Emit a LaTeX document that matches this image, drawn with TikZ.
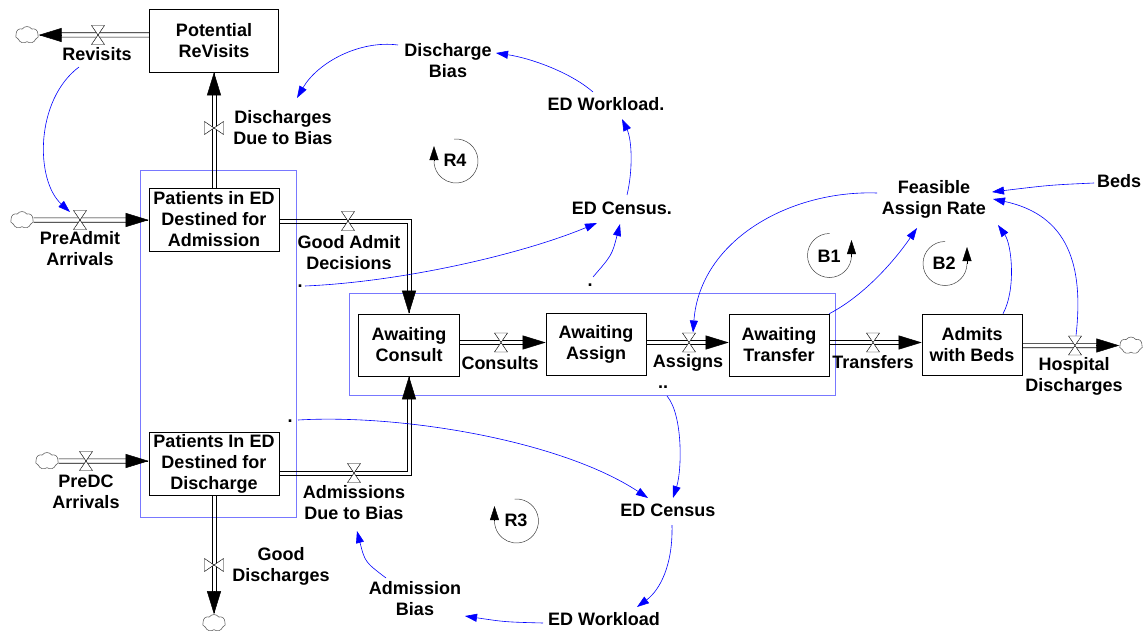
\documentclass[tikz,border=0pt]{standalone}
\usepackage{fontspec}
\setmainfont{Liberation Sans}
\usetikzlibrary{arrows.meta,calc,shapes.symbols}
\definecolor{grpblue}{RGB}{120,120,255}
\newcommand\hflowpipe[2]{\draw[pipe] ($#1+(0,-2.2)$) -- ($#2+(0,-2.2)$) ($#1+(0,2.2)$) -- ($#2+(0,2.2)$);}
\newcommand\vflowpipe[2]{\draw[pipe] ($#1+(-2.2,0)$) -- ($#2+(-2.2,0)$) ($#1+(2.2,0)$) -- ($#2+(2.2,0)$);}
\begin{document}
\begin{tikzpicture}[x=1pt,y=-1pt,
  every node/.style={font=\fontsize{18}{21}\selectfont\bfseries, align=center, inner sep=0pt},
  stock/.style={draw=black, line width=0.6pt, fill=white},
  grp/.style={draw=grpblue, line width=1pt},
  pipe/.style={draw=black, line width=0.6pt},
  flowtip/.style={draw=black, fill=black, line width=0.5pt, -{Triangle[length=23pt,width=14pt]}},
  link/.style={draw=blue, line width=0.6pt, -{Triangle[length=12pt,width=8pt]}},
  looparc/.style={draw=black!75, line width=0.5pt},
  looptip/.style={draw=black, fill=black, line width=0.4pt, -{Triangle[length=14pt,width=9pt]}},
  cloudy/.style={cloud, cloud puffs=7, cloud puff arc=110, aspect=1.4, draw=black!60, line width=0.6pt, fill=white, minimum width=23pt, minimum height=17pt, inner sep=0pt},
  valveh/.pic={\draw[line width=0.45pt, fill=white] (-6.5,-9.5) -- (6.5,-9.5) -- (0,0) -- cycle (-6.5,9.5) -- (6.5,9.5) -- (0,0) -- cycle;},
  valvev/.pic={\draw[line width=0.45pt, fill=white] (-9.5,-6.5) -- (-9.5,6.5) -- (0,0) -- cycle (9.5,-6.5) -- (9.5,6.5) -- (0,0) -- cycle;}
]
\useasboundingbox (0,0) rectangle (1146,634);
% groups
\draw[grp] (140,170) rectangle (296,517);
\draw[grp] (349,293) rectangle (835,395);
% stocks
\node[stock, minimum width=129pt, minimum height=63pt] (PRV) at (214,40.5) {Potential\\ReVisits};
\node[stock, minimum width=130pt, minimum height=63pt] (PA) at (214,219.5) {Patients in ED\\Destined for\\Admission};
\node[stock, minimum width=130pt, minimum height=63pt] (PD) at (214,463.5) {Patients In ED\\Destined for\\Discharge};
\node[stock, minimum width=101pt, minimum height=62pt] (AC) at (409,345) {Awaiting\\Consult};
\node[stock, minimum width=100pt, minimum height=62pt] (AA) at (596,344) {Awaiting\\Assign};
\node[stock, minimum width=100pt, minimum height=62pt] (AT) at (779,345) {Awaiting\\Transfer};
\node[stock, minimum width=100pt, minimum height=61pt] (AB) at (972,344.5) {Admits\\with Beds};
% clouds
\node[cloudy] (c1) at (27,35) {};
\node[cloudy] (c2) at (22,220) {};
\node[cloudy] (c3) at (47,461) {};
\node[cloudy] (c4) at (214,623) {};
\node[cloudy] (c5) at (1131,345.5) {};
% helper coordinates
\coordinate (row) at (0,342.5);
\coordinate (k1) at (409,221);
\coordinate (k2) at (409,473);
% pipes
\hflowpipe{(PRV.west |- c1)}{(c1.east)+(12,0)}
\draw[flowtip] ($(c1.east)+(1,0)$) -- (c1.east);
\hflowpipe{(c2.east)}{(c2 -| PA.west)+(-12,0)}
\draw[flowtip] ($(c2 -| PA.west)+(-1,0)$) -- (c2 -| PA.west);
\vflowpipe{(PA.north)}{(PRV.south)+(0,12)}
\draw[flowtip] ($(PRV.south)+(0,1)$) -- (PRV.south);
\draw[pipe] ($(PA.east |- k1)+(0,-2.2)$) -- ($(k1)+(2.2,-2.2)$) -- ($(AC.north)+(2.2,-12)$)
            ($(PA.east |- k1)+(0,2.2)$) -- ($(k1)+(-2.2,2.2)$) -- ($(AC.north)+(-2.2,-12)$);
\draw[flowtip] ($(AC.north)+(0,-1)$) -- (AC.north);
\draw[pipe] ($(PD.east |- k2)+(0,2.2)$) -- ($(k2)+(2.2,2.2)$) -- ($(AC.south)+(2.2,12)$)
            ($(PD.east |- k2)+(0,-2.2)$) -- ($(k2)+(-2.2,-2.2)$) -- ($(AC.south)+(-2.2,12)$);
\draw[flowtip] ($(AC.south)+(0,1)$) -- (AC.south);
\hflowpipe{(c3.east)}{(c3 -| PD.west)+(-12,0)}
\draw[flowtip] ($(c3 -| PD.west)+(-1,0)$) -- (c3 -| PD.west);
\vflowpipe{(PD.south)}{(c4.north)+(0,-12)}
\draw[flowtip] ($(c4.north)+(0,-1)$) -- (c4.north);
\hflowpipe{(AC.east |- row)}{(AA.west |- row)+(-12,0)}
\draw[flowtip] ($(AA.west |- row)+(-1,0)$) -- (AA.west |- row);
\hflowpipe{(AA.east |- row)}{(AT.west |- row)+(-12,0)}
\draw[flowtip] ($(AT.west |- row)+(-1,0)$) -- (AT.west |- row);
\hflowpipe{(AT.east |- row)}{(AB.west |- row)+(-12,0)}
\draw[flowtip] ($(AB.west |- row)+(-1,0)$) -- (AB.west |- row);
\hflowpipe{(AB.east |- c5)}{(c5.west)+(-12,0)}
\draw[flowtip] ($(c5.west)+(-1,0)$) -- (c5.west);
% valves
\coordinate (vRev) at (98,35);
\coordinate (vPre) at (80,220);
\coordinate (vDDB) at (214,128);
\coordinate (vGAD) at (348,221);
\coordinate (vADB) at (354,473);
\coordinate (vPDC) at (86,461);
\coordinate (vGD) at (214,565);
\coordinate (vCon) at (501,342.5);
\coordinate (vAsg) at (689,342.5);
\coordinate (vTrn) at (873,342.5);
\coordinate (vHD) at (1075,345.5);
\pic at (vRev) {valveh};
\pic at (vPre) {valveh};
\pic at (vDDB) {valvev};
\pic at (vGAD) {valveh};
\pic at (vADB) {valveh};
\pic at (vPDC) {valveh};
\pic at (vGD) {valvev};
\pic at (vCon) {valveh};
\pic at (vAsg) {valveh};
\pic at (vTrn) {valveh};
\pic at (vHD) {valveh};
% labels
\node (rev) at (97,54) {Revisits};
\node (prea) at (80,249) {PreAdmit\\Arrivals};
\node (ddb) at (283,128) {Discharges\\Due to Bias};
\node (gad) at (349,253) {Good Admit\\Decisions};
\node (disb) at (448,61) {Discharge\\Bias};
\node (edw2) at (606,104) {ED Workload.};
\node (edc2) at (622,208) {ED Census.};
\node (far) at (934,199) {Feasible\\Assign Rate};
\node (beds) at (1119,181) {Beds};
\node (cons) at (500,363) {Consults};
\node (asg) at (688,363) {Assigns};
\node (trn) at (873,362) {Transfers};
\node (hd) at (1074,376) {Hospital\\Discharges};
\node (predc) at (86,492) {PreDC\\Arrivals};
\node (adb) at (354,503) {Admissions\\Due to Bias};
\node (gd) at (281,566) {Good\\Discharges};
\node (edc) at (668,510) {ED Census};
\node (edw) at (604,619) {ED Workload};
\node (admb) at (415,599) {Admission\\Bias};
\node (d1) at (300,286) {.};
\node (d2) at (590,285) {.};
\node (d3) at (290,421) {.};
\node (d4) at (663,387) {..};
% links
\draw[link] ($(rev)+(-18,13)$) .. controls (35,100) and (35,180) .. ($(vPre)+(-10,-8)$);
\draw[link] ($(disb)+(-50,-16)$) .. controls (360,40) and (318,62) .. ($(ddb)+(14,-30)$);
\draw[link] ($(edw2)+(-13,-12)$) .. controls (570,72) and (530,58) .. ($(disb)+(48,-8)$);
\draw[link] ($(edc2)+(5,-13)$) .. controls (633,170) and (632,140) .. ($(edw2)+(16,15)$);
\draw[link] ($(d1)+(5,0)$) .. controls (400,282) and (520,255) .. ($(edc2)+(-25,15)$);
\draw[link] ($(d2)+(3,-8)$) .. controls (612,255) .. ($(edc2)+(-2,16)$);
\draw[link] (AT.north east) .. controls (865,295) and (895,260) .. ($(far)+(-17,29)$);
\draw[link] ($(AB.north)+(31,0)$) .. controls (1016,290) and (1012,245) .. ($(far)+(64,26)$);
\draw[link] ($(vHD)+(1,-10)$) .. controls (1084,265) and (1068,215) .. ($(far)+(59,0)$);
\draw[link] ($(beds)+(-25,2)$) .. controls (1050,185) .. ($(far)+(58,-7)$);
\draw[link] ($(far)+(-57,-6)$) .. controls (790,190) and (700,240) .. ($(vAsg)+(4,-10)$);
\draw[link] ($(d3)+(8,-1)$) .. controls (400,414) and (560,440) .. ($(edc)+(-20,-12)$);
\draw[link] ($(d4)+(4,9)$) .. controls (683,415) and (682,470) .. ($(edc)+(5,-12)$);
\draw[link] ($(edc)+(4,15)$) .. controls (673,565) and (660,590) .. ($(edw)+(33,-12)$);
\draw[link] ($(edw)+(-61,4)$) .. controls (505,622) .. ($(admb)+(50,17)$);
\draw[link] ($(admb)+(-29,-21)$) .. controls (365,562) .. ($(adb)+(3,28)$);
% loops
\node (R4) at (455,160) {R4};
\draw[looparc] ($(R4)+(1,1)$) ++(-95:22) arc[start angle=-95, end angle=180, radius=22];
\draw[looptip] ($(R4)+(-21,1)$) -- ++(0,-15);
\node (R3) at (516,520) {R3};
\draw[looparc] ($(R3)+(0.5,1)$) ++(-95:22) arc[start angle=-95, end angle=180, radius=22];
\draw[looptip] ($(R3)+(-21.5,1)$) -- ++(0,-15);
\node (B1) at (829,256) {B1};
\draw[looparc] ($(B1)+(0.5,-0.5)$) ++(-90:22) arc[start angle=-90, end angle=-360, radius=22];
\draw[looptip] ($(B1)+(22.5,1)$) -- ++(0,-17);
\node (B2) at (944,263) {B2};
\draw[looparc] ($(B2)+(1,0.5)$) ++(-90:22) arc[start angle=-90, end angle=-360, radius=22];
\draw[looptip] ($(B2)+(23,1)$) -- ++(0,-17);
\end{tikzpicture}
\end{document}
